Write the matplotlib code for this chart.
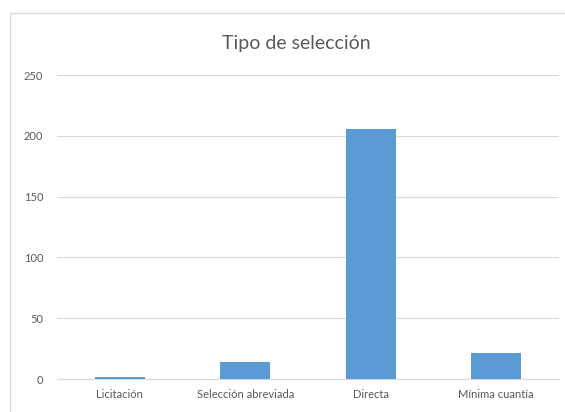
"""
Bar chart: Tipo de selección
"""

import matplotlib
matplotlib.use('Agg')
import matplotlib.pyplot as plt
from matplotlib.patches import Rectangle

# ---------------------------------------------------------------------------- #
# Data
# ---------------------------------------------------------------------------- #
categories = ['Licitación', 'Selección abreviada', 'Directa', 'Mínima cuantía']
values = [2, 14, 206, 21]
yticks = [0, 50, 100, 150, 200, 250]
title = 'Tipo de selección'

bar_colour = '#5B9BD5'
text_colour = '#595959'
grid_colour = '#D9D9D9'

plt.rcParams['font.family'] = ['Lato', 'DejaVu Sans']

W, H = 565, 412
fig = plt.figure(figsize=(W / 100, H / 100), dpi=100)

# Chart area border
fig.patches.append(Rectangle((10 / W, -0.1), 1.2, 1 - 13 / H + 0.1,
                             transform=fig.transFigure, fill=False,
                             edgecolor='#D9D9D9', linewidth=1.0))

ax = fig.add_axes([57 / W, 1 - 379 / H, (559 - 57) / W, (379 - 75) / H])

x = range(len(categories))
ax.bar(x, values, width=0.4, color=bar_colour, zorder=3)

ax.set_xlim(-0.5, len(categories) - 0.5)
ax.set_ylim(0, 250)
ax.set_yticks(yticks)
ax.set_xticks(list(x))
ax.set_xticklabels(categories)
ax.grid(axis='y', color=grid_colour, linewidth=0.8, zorder=0)

for side in ['top', 'right', 'left']:
    ax.spines[side].set_visible(False)
ax.spines['bottom'].set_color(grid_colour)
ax.spines['bottom'].set_linewidth(0.8)
ax.tick_params(axis='both', length=0, labelsize=8, colors=text_colour)
ax.tick_params(axis='y', pad=10)
ax.tick_params(axis='x', pad=7)

fig.text(296 / W, 1 - 44 / H, title, ha='center', va='center',
         fontsize=14, color=text_colour)

fig.savefig('out.png', dpi=100)
plt.close()
